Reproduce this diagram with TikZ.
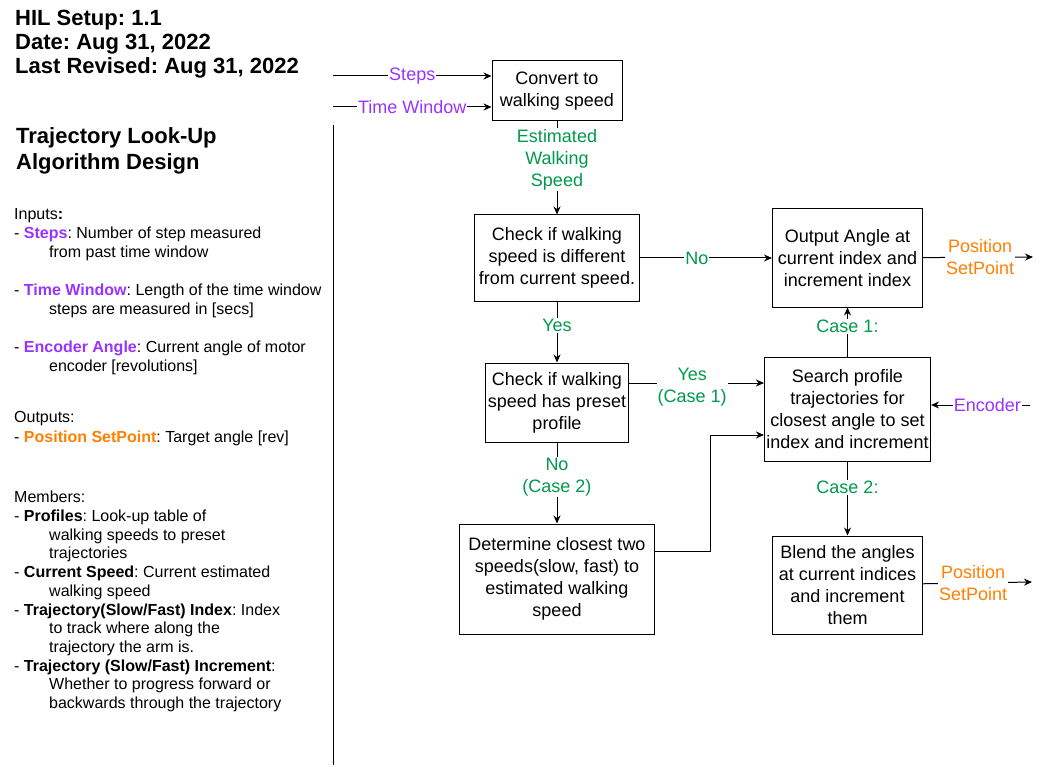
\documentclass[tikz,border=0pt]{standalone}
\usepackage{fontspec}
\setmainfont{Liberation Sans}
\usepackage{xcolor}
\usetikzlibrary{arrows.meta,positioning}
\definecolor{inpurple}{HTML}{9933FF}
\definecolor{flowgreen}{HTML}{00994D}
\definecolor{outorange}{HTML}{FF8000}
\newcommand{\inname}[1]{\textcolor{inpurple}{\textbf{#1}}}
\newcommand{\outname}[1]{\textcolor{outorange}{\textbf{#1}}}
\newcommand{\ind}{\hspace*{35pt}}
\frenchspacing
\tikzset{
  flowbox/.style={
    draw=black,
    line width=1pt,
    align=center,
    inner sep=2pt,
    font=\fontsize{18}{22}\selectfont
  },
  flowarrow/.style={-{Stealth[length=8pt,width=7pt]}, line width=1pt, draw=black},
  flowline/.style={line width=1pt, draw=black},
  flowlabel/.style={fill=white, align=center, inner sep=1pt, font=\fontsize{18}{22}\selectfont},
  yeslabel/.style={flowlabel, text=flowgreen},
  inlabel/.style={flowlabel, text=inpurple},
  outlabel/.style={flowlabel, text=outorange},
  headtext/.style={align=left, inner sep=0pt, anchor=base west, font=\fontsize{22}{24}\selectfont\bfseries},
  notetext/.style={align=left, inner sep=0pt, anchor=base west}
}
\begin{document}
\begin{tikzpicture}[x=1pt, y=1pt]
\useasboundingbox[fill=white] (0,0) rectangle (1041,-767);

% header and notes (anchored at the baseline of the last line)
\node[headtext] (header) at (15,-74) {HIL Setup: 1.1\\Date: Aug 31, 2022\\Last Revised: Aug 31, 2022};
\node[headtext, font=\fontsize{22}{26}\selectfont\bfseries] (title) at (16,-170) {Trajectory Look-Up\\Algorithm Design};
\node[notetext, font=\fontsize{16}{19.1}\selectfont] (inputs) at (14,-371.8) {Inputs\textbf{:}\\
- \inname{Steps}: Number of step measured\\
\ind from past time window\\[\baselineskip]
- \inname{Time Window}: Length of the time window\\
\ind steps are measured in [secs]\\[\baselineskip]
- \inname{Encoder Angle}: Current angle of motor\\
\ind encoder [revolutions]};
\node[notetext, font=\fontsize{16}{20}\selectfont] (outputs) at (14,-442) {Outputs:\\
- \outname{Position SetPoint}: Target angle [rev]};
\node[notetext, font=\fontsize{16}{18.7}\selectfont] (members) at (14,-708.5) {Members:\\
- \textbf{Profiles}: Look-up table of\\
\ind walking speeds to preset\\
\ind trajectories\\
- \textbf{Current Speed}: Current estimated\\
\ind walking speed\\
- \textbf{Trajectory(Slow/Fast) Index}: Index\\
\ind to track where along the\\
\ind trajectory the arm is.\\
- \textbf{Trajectory (Slow/Fast) Increment}:\\
\ind Whether to progress forward or\\
\ind backwards through the trajectory};
\coordinate (septop) at (333,-125);
\coordinate (sepbot) at (333,-765);
\draw[flowline] (septop) -- (sepbot);

% flow boxes
\node[flowbox, minimum width=130pt, minimum height=60pt] (convert) at (557,-91) {Convert to\\walking speed};
\node[flowbox, below=93pt of convert, minimum width=165pt, minimum height=86pt] (diffcheck) {Check if walking\\speed is different\\from current speed.};
\node[flowbox, right=132pt of diffcheck, minimum width=150pt, minimum height=98pt] (output) {Output Angle at\\current index and\\increment index};
\node[flowbox, below=61pt of diffcheck, minimum width=140pt, minimum height=79pt] (presetcheck) {Check if walking\\speed has preset\\profile};
\node[flowbox, below=49pt of output, minimum width=165pt, minimum height=104pt] (search) {Search profile\\trajectories for\\closest angle to set\\index and increment};
\node[flowbox, below=81pt of presetcheck, minimum width=195pt, minimum height=110pt] (closest) {Determine closest two\\speeds(slow, fast) to\\estimated walking\\speed};
\node[flowbox, below=74pt of search, minimum width=150pt, minimum height=98pt] (blend) {Blend the angles\\at current indices\\and increment\\them};

% inputs and outputs
\coordinate (stepsin) at (333,-76);
\coordinate (windowin) at (333,-107);
\coordinate (encoderin) at (1030,-405);
\coordinate (setpointa) at (1033,-257);
\coordinate (setpointb) at (1032,-582);
\coordinate (case1in) at ([yshift=19.5pt]presetcheck.east);
\coordinate (case2out) at ([yshift=28pt]closest.east);

\draw[flowarrow] (stepsin) -- (stepsin -| convert.west) node[inlabel, pos=0.5] {Steps};
\draw[flowarrow] (windowin) -- (windowin -| convert.west) node[inlabel, pos=0.5] {Time Window};
\draw[flowarrow] (convert) -- (diffcheck) node[yeslabel, pos=0.41] {Estimated\\Walking\\Speed};
\draw[flowarrow] (diffcheck) -- (output) node[yeslabel, pos=0.43] {No};
\draw[flowarrow] (output) -- (setpointa) node[outlabel, pos=0.52] {Position\\SetPoint};
\draw[flowarrow] (diffcheck) -- (presetcheck) node[yeslabel, pos=0.39] {Yes};
\draw[flowarrow] (case1in) -- (case1in -| search.west) node[yeslabel, pos=0.47, yshift=-4pt] {Yes\\(Case 1)};
\draw[flowarrow] (presetcheck) -- (closest) node[yeslabel, pos=0.43] {No\\(Case 2)};
\draw[flowarrow] (case2out) -- ++(55,0) |- ([yshift=-26pt]search.west);
\draw[flowarrow] (search.north) -- (output.south) node[yeslabel, pos=0.61] {Case 1:};
\draw[flowarrow] (search.south) -- (blend.north) node[yeslabel, pos=0.35] {Case 2:};
\draw[flowarrow] (encoderin) -- (encoderin -| search.east) node[inlabel, pos=0.43] {Encoder};
\draw[flowarrow] (blend) -- (setpointb) node[outlabel, pos=0.46] {Position\\SetPoint};
\end{tikzpicture}
\end{document}
